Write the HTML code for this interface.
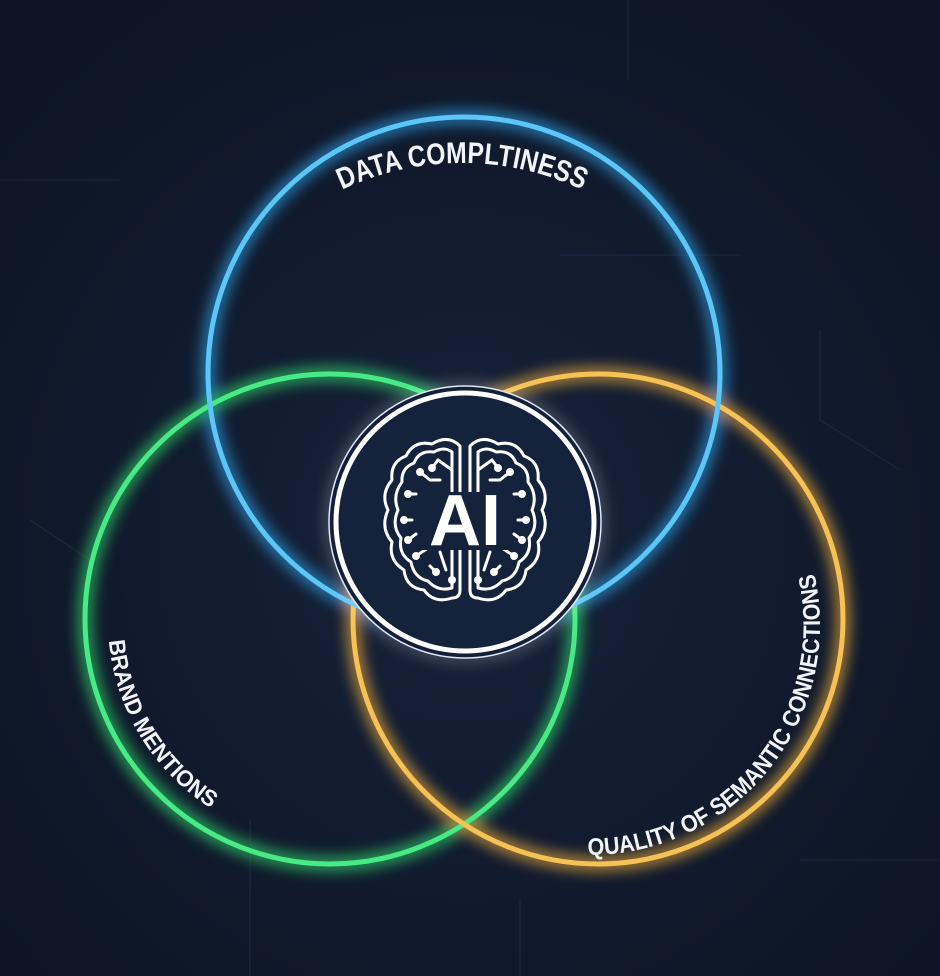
<!DOCTYPE html>
<html><head><meta charset="utf-8"><style>
html,body{margin:0;padding:0;width:940px;height:976px;overflow:hidden;background:#111a2b}
svg{display:block}
</style></head><body>
<svg width="940" height="976" viewBox="0 0 940 976" xmlns="http://www.w3.org/2000/svg">
<defs>
<radialGradient id="bg" cx="50%" cy="55%" r="65%">
<stop offset="0" stop-color="#16223a"/><stop offset="1" stop-color="#0d1524"/>
</radialGradient>
<filter id="glow" x="-20%" y="-20%" width="140%" height="140%">
<feGaussianBlur stdDeviation="7"/>
</filter>
<path id="pb" d="M338.4,191.5 A282,282 0 0 1 585.6,191.5"/>
<path id="pg" d="M108.1,628.7 A222,222 0 0 0 225.9,817"/>
<path id="po" d="M562,853.3 A230,230 0 0 0 812.2,565.5"/>
</defs>
<rect width="940" height="976" fill="url(#bg)"/>
<g stroke="#1d2b44" stroke-width="1.5" fill="none" opacity="0.7">
<path d="M628,0 V80 M560,255 H740 M820,330 V420 L900,470 M0,180 H120 M30,520 L90,560 M800,860 H940 M250,820 V976 M520,900 V976"/>
</g>
<g fill="none" stroke-width="14" filter="url(#glow)" opacity="0.75">
<circle cx="464" cy="373" r="256" stroke="#2f9be0"/>
<circle cx="330" cy="619" r="245" stroke="#2fd46a"/>
<circle cx="598" cy="619" r="245" stroke="#e8a93a"/>
</g>
<g fill="none" stroke-width="5">
<circle cx="330" cy="619" r="245" stroke="#48ea86"/>
<circle cx="598" cy="619" r="245" stroke="#f6c255"/>
<circle cx="464" cy="373" r="256" stroke="#5cc6f6"/>
</g>
<circle cx="465" cy="522" r="142" fill="#ffffff" opacity="0.18" filter="url(#glow)"/>
<circle cx="465" cy="522" r="136" fill="#14203a" stroke="#dfe8f5" stroke-width="1.5"/>
<circle cx="465" cy="522" r="129" fill="#15223c" stroke="#ffffff" stroke-width="5"/>
<g id="hemi" fill="none" stroke="#ffffff" stroke-width="3" stroke-linecap="round" stroke-linejoin="round">
<path d="M460,446 Q448,434 432,444 Q414,440 406,456 Q390,462 392,480 Q380,494 388,510 Q380,528 392,542 Q388,560 404,570 Q406,588 424,590 Q434,604 452,598 Q460,598 460,590 Z"/>
<path d="M452,452 Q444,446 434,452 Q419,450 414,463 Q401,468 402,482 Q392,495 398,510 Q391,526 401,538 Q398,554 411,562 Q414,578 428,581 Q438,592 452,588 Z"/>
<path d="M452,458 V490 M452,470 L438,460 M438,460 L432,468 M420,472 L430,480 L440,480 M408,494 L416,494 M404,520 H412 M408,540 L416,534 M416,556 L428,548 L440,548 M440,552 L446,570 M436,572 L430,566 M452,556 V580"/>
<circle cx="432" cy="468" r="2.5" fill="#fff"/><circle cx="420" cy="472" r="2.5" fill="#fff"/>
<circle cx="408" cy="494" r="2.5" fill="#fff"/><circle cx="404" cy="520" r="2.5" fill="#fff"/>
<circle cx="408" cy="540" r="2.5" fill="#fff"/><circle cx="416" cy="556" r="2.5" fill="#fff"/>
<circle cx="436" cy="572" r="2.5" fill="#fff"/><circle cx="452" cy="580" r="2.5" fill="#fff"/>
</g>
<use href="#hemi" transform="translate(930,0) scale(-1,1)"/>
<rect x="420" y="492" width="90" height="58" fill="#15223c"/>
<text x="465" y="545" text-anchor="middle" font-family="Liberation Sans, sans-serif" font-weight="bold" font-size="72" fill="#ffffff">AI</text>
<g font-family="'Liberation Sans Narrow','Liberation Sans',sans-serif" font-weight="bold" fill="#f2f4f8">
<text font-size="30"><textPath href="#pb" startOffset="4" textLength="248" lengthAdjust="spacingAndGlyphs">DATA COMPLTINESS</textPath></text>
<text font-size="23"><textPath href="#pg" startOffset="12" textLength="203" lengthAdjust="spacingAndGlyphs">BRAND MENTIONS</textPath></text>
<text font-size="24"><textPath href="#po" startOffset="26" textLength="415" lengthAdjust="spacingAndGlyphs">QUALITY OF SEMANTIC CONNECTIONS</textPath></text>
</g>
</svg>
</body></html>
